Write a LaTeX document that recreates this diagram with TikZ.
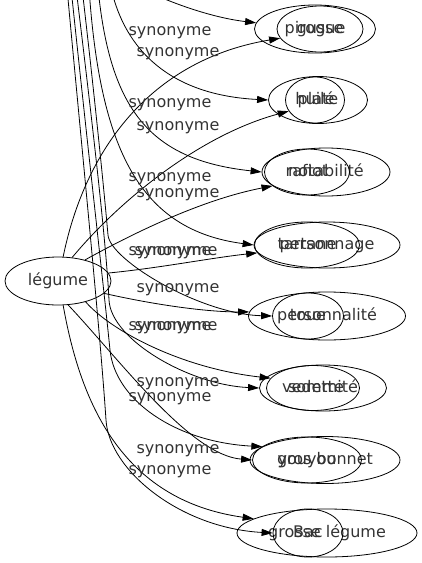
\documentclass[tikz,border=0pt]{standalone}
\usepackage{fontspec}
\setmainfont{DejaVu Sans}
\usetikzlibrary{arrows.meta, shapes.geometric}

\begin{document}
\begin{tikzpicture}[x=1pt, y=-1pt,
	mot/.style={draw, ellipse, line width=0.8pt, inner sep=0pt, text height=12pt, text depth=4pt, text=black!80, font=\fontsize{16}{19}\selectfont},
	syn/.style={line width=0.8pt, -{Triangle[length=11pt, width=7pt]}},
	etiq/.style={inner sep=0pt, text height=12pt, text depth=4pt, text=black!80, font=\fontsize{16}{19}\selectfont}]
	\useasboundingbox (0,0) rectangle (422,563);
	\clip (0,0) rectangle (422,563);

	\node[mot, minimum width=106pt, minimum height=48pt] (legume) at (58,281) {légume};

	\node[mot, minimum width=121pt, minimum height=48pt] (pirogue) at (315,29) {pirogue};
	\node[mot, minimum width=86pt, minimum height=46pt] (gusse) at (320,29) {gusse};
	\node[mot, minimum width=99pt, minimum height=47pt] (plate) at (318,100) {plate};
	\node[mot, minimum width=59pt, minimum height=46pt] (huile) at (315,100) {huilé};
	\node[mot, minimum width=128pt, minimum height=48pt] (notabilite) at (326,172) {notabilité};
	\node[mot, minimum width=85pt, minimum height=46pt] (rafiot) at (307,172) {rafiot};
	\node[mot, minimum width=146pt, minimum height=46pt] (personnage) at (327,245) {personnage};
	\node[mot, minimum width=105pt, minimum height=46pt] (tartane) at (307,245) {tartane};
	\node[mot, minimum width=157pt, minimum height=48pt] (personnalite) at (327,316) {personnalité};
	\node[mot, minimum width=71pt, minimum height=46pt] (toue) at (308,316) {toue};
	\node[mot, minimum width=127pt, minimum height=46pt] (sommite) at (323,388) {sommité};
	\node[mot, minimum width=93pt, minimum height=45pt] (vedette) at (313,388) {vedette};
	\node[mot, minimum width=150pt, minimum height=47pt] (grosbonnet) at (325,460) {gros bonnet};
	\node[mot, minimum width=109pt, minimum height=46pt] (youyou) at (307,460) {youyou};
	\node[mot, minimum width=180pt, minimum height=48pt] (grosselegume) at (327,533) {grosse légume};
	\node[mot, minimum width=70pt, minimum height=48pt] (bac) at (308,533) {Bac};

	% free ends above the picture
	\coordinate (h1) at (140,-12);
	\coordinate (h2) at (111,-12);
	\coordinate (h3) at (98,-12);
	\coordinate (h4) at (89,-12);
	\coordinate (h5) at (82,-12);
	\coordinate (h6) at (76,-12);
	\coordinate (h7) at (71,-12);
	\coordinate (h8) at (67,-12);

	% from legume
	\draw[syn] (legume.78) .. controls (85,150) and (150,60) .. (gusse.193);
	\draw[syn] (legume.59) .. controls (120,200) and (200,135) .. (huile.203);
	\draw[syn] (legume.38) .. controls (130,235) and (200,200) .. (rafiot.202);
	\draw[syn] (legume.9) .. controls (160,268) and (210,258) .. (tartane.189);
	\draw[syn] (legume.345) .. controls (160,306) and (210,312) .. (personnalite.177);
	\draw[syn] (legume.323) .. controls (110,330) and (180,368) .. (vedette.167);
	\draw[syn] (legume.293) .. controls (120,360) and (190,455) .. (youyou.180);
	\draw[syn] (legume.282) .. controls (80,400) and (120,500) .. (grosselegume.169);

	% from above
	\draw[syn] (h1) .. controls (175,5) and (215,18) .. (pirogue.174);
	\draw[syn] (h2) .. controls (125,50) and (170,95) .. (plate.180);
	\draw[syn] (h3) .. controls (110,110) and (150,160) .. (notabilite.180);
	\draw[syn] (h4) .. controls (100,150) and (140,230) .. (personnage.180);
	\draw[syn] (h5) .. controls (95,100) and (104,190) .. (108,235) .. controls (110,260) and (200,314) .. (toue.180);
	\draw[syn] (h6) .. controls (92,120) and (106,240) .. (109,300) .. controls (111,340) and (190,385) .. (sommite.180);
	\draw[syn] (h7) .. controls (88,150) and (104,290) .. (110,350) .. controls (115,400) and (175,442) .. (grosbonnet.168);
	\draw[syn] (h8) .. controls (82,150) and (100,330) .. (106,420) .. controls (109,470) and (180,528) .. (bac.180);

	% labels
	\node[etiq] (s1) at (170,31) {synonyme};
	\node[etiq] (s2) at (178,52) {synonyme};
	\node[etiq] (s3) at (170,103) {synonyme};
	\node[etiq] (s4) at (178,126) {synonyme};
	\node[etiq] (s5) at (170,177) {synonyme};
	\node[etiq] (s6) at (178,193) {synonyme};
	\node[etiq] (s7) at (170,251) {synonyme};
	\node[etiq] (s8) at (176,251) {synonyme};
	\node[etiq] (s9) at (178,288) {synonyme};
	\node[etiq] (s10) at (170,326) {synonyme};
	\node[etiq] (s11) at (176,326) {synonyme};
	\node[etiq] (s12) at (178,382) {synonyme};
	\node[etiq] (s13) at (170,397) {synonyme};
	\node[etiq] (s14) at (178,449) {synonyme};
	\node[etiq] (s15) at (170,470) {synonyme};
\end{tikzpicture}
\end{document}
